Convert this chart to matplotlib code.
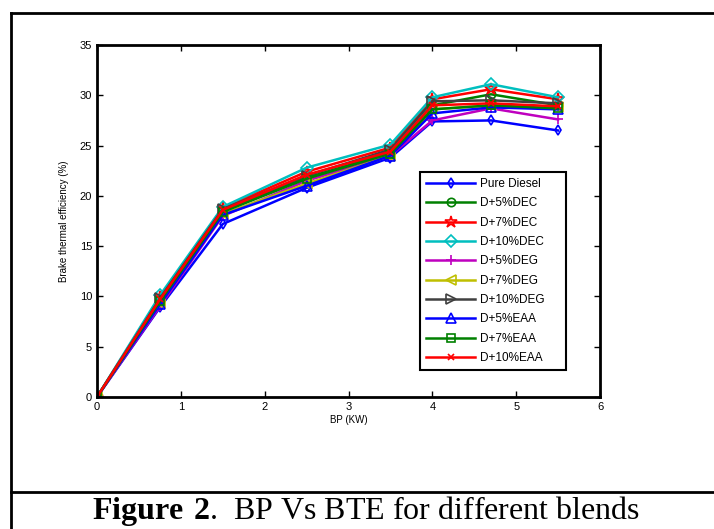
import matplotlib
matplotlib.use("Agg")
import matplotlib.pyplot as plt
from matplotlib.lines import Line2D

plt.rcParams['font.family'] = ['Liberation Sans', 'DejaVu Sans']
plt.rcParams['mathtext.fontset'] = 'custom'
plt.rcParams['mathtext.rm'] = 'Liberation Serif'
plt.rcParams['mathtext.bf'] = 'Liberation Serif:bold'

bp = [0, 0.75, 1.5, 2.5, 3.5, 4.0, 4.7, 5.5]
labels = ["Pure Diesel", "D+5%DEC", "D+7%DEC", "D+10%DEC", "D+5%DEG",
          "D+7%DEG", "D+10%DEG", "D+5%EAA", "D+7%EAA", "D+10%EAA"]
pure_diesel = [0, 8.9, 17.2, 20.8, 23.8, 27.4, 27.5, 26.5]
d5dec = [0, 9.6, 18.5, 21.8, 24.3, 29.0, 30.1, 29.0]
d7dec = [0, 9.9, 18.8, 22.4, 24.8, 29.6, 30.6, 29.6]
d10dec = [0, 10.1, 18.9, 22.8, 25.1, 29.8, 31.1, 29.8]
d5deg = [0, 9.0, 18.0, 21.5, 24.0, 27.5, 28.7, 27.6]
d7deg = [0, 9.3, 18.2, 21.2, 24.0, 28.6, 29.0, 28.8]
d10deg = [0, 9.8, 18.7, 22.0, 24.6, 29.4, 29.5, 29.2]
d5eaa = [0, 9.2, 18.1, 21.0, 24.0, 28.2, 28.8, 28.6]
d7eaa = [0, 9.5, 18.4, 21.7, 24.2, 28.6, 29.0, 28.7]
d10eaa = [0, 9.7, 18.6, 22.1, 24.4, 29.0, 29.2, 28.9]
series = [pure_diesel, d5dec, d7dec, d10dec, d5deg, d7deg, d10deg, d5eaa, d7eaa, d10eaa]

colors = ["#0000ff", "#008000", "#ff0000", "#00bfbf", "#bf00bf",
          "#bfbf00", "#404040", "#0000ff", "#008000", "#ff0000"]
markers = ["d", "o", "*", "D", "+", "<", ">", "^", "s", "x"]
msizes = [5, 6, 9, 6, 7, 7, 7, 7, 6, 5]

fig = plt.figure(figsize=(7.14, 5.29), dpi=100)
W, H = 714, 529
ax = fig.add_axes([97 / W, 1 - 397 / H, 503 / W, 352 / H])

for y, lab, c, m, ms in zip(series, labels, colors, markers, msizes):
    ax.plot(bp, y, color=c, marker=m, markersize=ms, markerfacecolor='none',
            markeredgecolor=c, markeredgewidth=1.2, linewidth=1.8, label=lab)

ax.set_xlim(0, 6)
ax.set_ylim(0, 35)
ax.set_xticks(range(0, 7))
ax.set_yticks(range(0, 36, 5))
ax.tick_params(direction='in', top=True, right=True, labelsize=8, length=4, width=1)
for s in ax.spines.values():
    s.set_linewidth(2)
ax.set_xlabel("BP (KW)", fontsize=7, labelpad=2)
ax.set_ylabel("Brake thermal efficiency (%)", fontsize=7, labelpad=8)

leg = ax.legend(loc='lower left', bbox_to_anchor=(0.642, 0.077, 0.29, 0.531),
                mode='expand', fontsize=8.5, handlelength=4.2, labelspacing=0.62,
                borderaxespad=0, fancybox=False, framealpha=1, edgecolor='black',
                borderpad=0.5, handletextpad=0.4)
leg.get_frame().set_linewidth(1.5)

# figure frame
def fx(x):
    return x / W
def fy(y):
    return 1 - y / H
fig.add_artist(Line2D([fx(11), fx(11)], [fy(13), fy(529)], color='black', lw=2))
fig.add_artist(Line2D([fx(11), fx(714)], [fy(13), fy(13)], color='black', lw=2))
fig.add_artist(Line2D([fx(11), fx(714)], [fy(492), fy(492)], color='black', lw=2))

fig.text(fx(366), fy(511), r"$\mathbf{Figure\ 2}$.  BP Vs BTE for different blends",
         ha='center', va='center', fontsize=23, family='Liberation Serif')

fig.savefig("out.png", dpi=100)
